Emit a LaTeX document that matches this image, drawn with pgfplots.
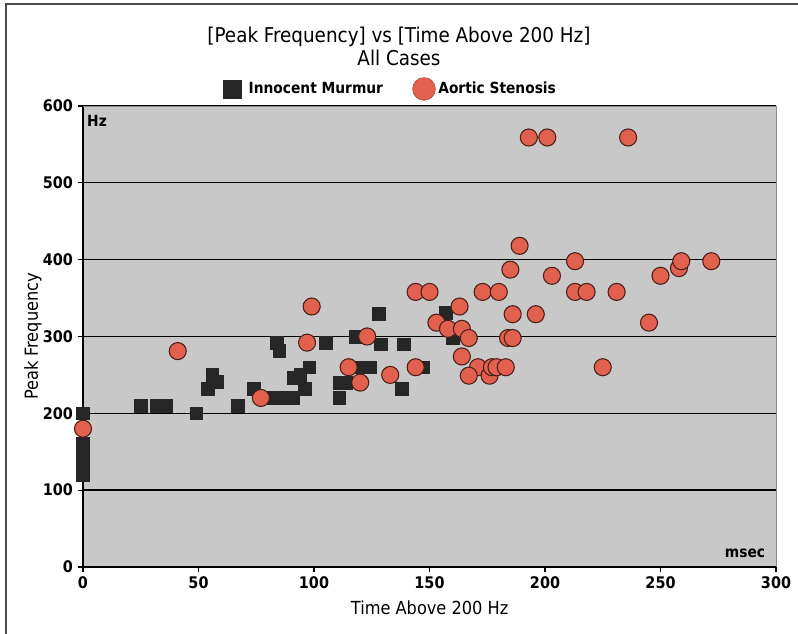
\documentclass[border=0pt]{standalone}
\usepackage{pgfplots}
\pgfplotsset{compat=1.18}
\usepackage{fontspec}
\setmainfont{DejaVu Sans Condensed}
\definecolor{bgGray}{HTML}{C8C8C8}
\definecolor{imFill}{HTML}{262626}
\definecolor{asFill}{HTML}{E2604E}
\definecolor{asDraw}{HTML}{4A2018}
\begin{document}
\begin{tikzpicture}
\useasboundingbox (-62.25pt,-50.25pt) rectangle (536.25pt,425.25pt);
% frame of the original (only its left and top edges are visible)
\draw[black!70, line width=1pt] (-57.75pt,-50.25pt) -- (-57.75pt,422.25pt) -- (536.25pt,422.25pt);
\begin{axis}[
    at={(0pt,0pt)}, anchor=south west,
    scale only axis,
    width=519.75pt, height=345.75pt,
    xmin=0, xmax=300, ymin=0, ymax=600,
    xtick={0,50,...,300}, ytick={0,100,...,600},
    axis lines*=left,
    axis line style={black, line width=0.8pt},
    tick align=outside, major tick length=4pt,
    tick style={black, line width=0.8pt},
    ymajorgrids,
    major grid style={black, line width=1pt},
    axis background/.style={fill=bgGray},
    /pgf/number format/assume math mode=true,
    ticklabel style={font=\fontsize{12}{14}\selectfont\bfseries},
    clip=false,
    legend columns=2,
    legend style={at={(rel axis cs:0.444,1.037)}, anchor=center,
        draw=none, fill=none, font=\fontsize{11.5}{14}\selectfont\bfseries,
        /tikz/every even column/.append style={column sep=20pt}},
]
\draw[black!45, line width=0.6pt] (rel axis cs:0,1) -- (rel axis cs:1,1) -- (rel axis cs:1,0);
\addplot[only marks, mark=square*, mark size=4.75pt,
    mark options={fill=imFill, draw=imFill},
    legend image code/.code={
        \fill[imFill] (0pt,-6.75pt) rectangle (13.5pt,6.75pt);
        \path (17pt,0pt);}] coordinates {
    (0,200) (0,160) (0,150) (0,140) (0,130) (0,120)
    (25,210) (32,210) (36,210) (49,200) (54,232) (56,250) (58,241)
    (67,210) (74,232) (84,292) (85,281) (81,220) (86,220) (91,220)
    (91,246) (94,250) (98,260) (96,232) (105,292) (111,240) (114,240)
    (111,220) (118,300) (128,330) (129,290) (139,290) (119,260) (124,260)
    (138,232) (147,260) (157,331) (160,298)
};
\addlegendentry{Innocent Murmur}
\addplot[only marks, mark=*, mark size=6.4pt,
    mark options={fill=asFill, draw=asDraw, line width=0.8pt},
    legend image code/.code={
        \draw[fill=asFill, draw=asFill!80!black, line width=0.5pt] (8.5pt,0pt) circle (8.5pt);}] coordinates {
    (0,180) (41,281) (77,220) (97,292) (99,339) (115,260) (120,240)
    (123,300) (133,250) (144,358) (150,358) (144,260) (153,318) (158,310)
    (163,339) (164,310) (167,298) (164,274) (171,260) (167,249) (176,249)
    (177,260) (179,260) (183,260) (173,358) (180,358) (186,329) (196,329)
    (184,298) (186,298) (185,387) (189,418) (193,559) (201,559) (236,559)
    (203,379) (213,398) (213,358) (218,358) (231,358) (225,260) (250,379)
    (245,318) (258,389) (259,398) (272,398)
};
\addlegendentry{Aortic Stenosis}
\end{axis}
\node[font=\fontsize{15.3}{18}\selectfont] at (237pt,397.5pt) {[Peak Frequency] vs [Time Above 200 Hz]};
\node[font=\fontsize{15.3}{18}\selectfont] at (237pt,381.75pt) {All Cases};
\node[font=\fontsize{13.5}{16}\selectfont, rotate=90] at (-37.5pt,172.9pt) {Peak Frequency};
\node[font=\fontsize{13.5}{16}\selectfont] at (260pt,-30.75pt) {Time Above 200 Hz};
\node[font=\fontsize{11.5}{14}\selectfont\bfseries] at (10.5pt,334.5pt) {Hz};
\node[font=\fontsize{11.5}{14}\selectfont\bfseries] at (496.5pt,10.5pt) {msec};
\end{tikzpicture}
\end{document}
